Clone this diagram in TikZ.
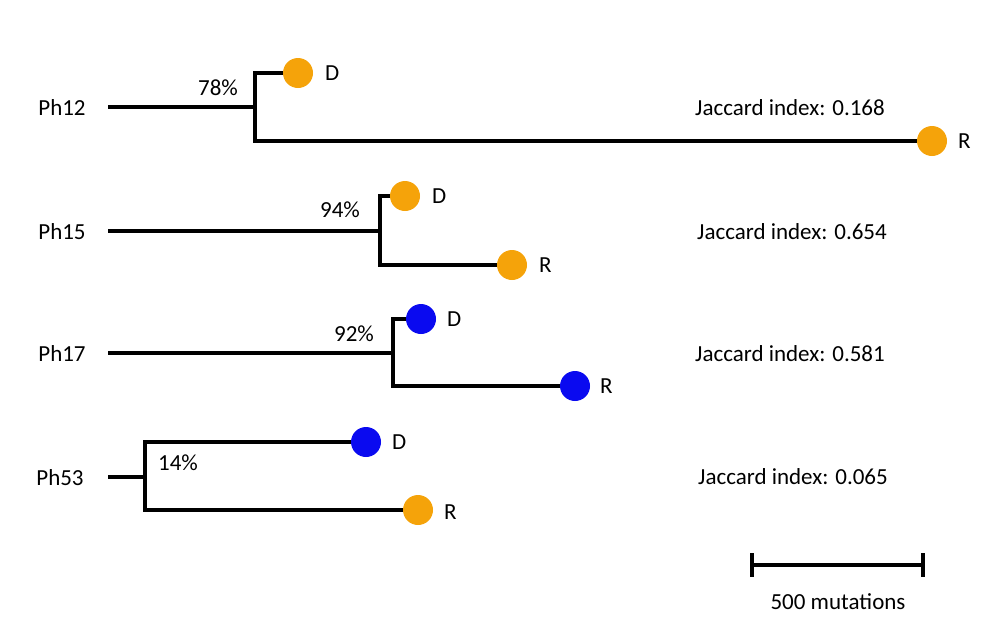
\documentclass[tikz,border=0pt]{standalone}
\usepackage{fontspec}
\setmainfont{Carlito}
\definecolor{orng}{HTML}{F5A30A}
\definecolor{blu}{HTML}{0A0AF0}
\begin{document}
\begin{tikzpicture}[x=1pt,y=-1pt,
 br/.style={line width=4.5pt},
 lf/.style={circle,minimum size=30pt,inner sep=0pt},
 txt/.style={font=\fontsize{23}{27}\selectfont,inner sep=0pt},
]
\useasboundingbox (0,0) rectangle (1002,638);
\def\tree#1#2#3#4#5#6#7#8#9{}
% Ph12
\node[txt] (l12) at (62,108) {Ph12};
\coordinate (s12) at (108,107);
\coordinate (n12) at (255,107);
\node[lf,fill=orng] (d12) at (298,73) {};
\node[lf,fill=orng] (r12) at (932,141) {};
\draw[br] (s12) -- (n12);
\draw[br] (d12.west) -| (n12) |- (r12.west);
\node[txt] at (218,88) {78\%};
\node[txt,anchor=west] at (325,73) {D};
\node[txt,anchor=west] at (958,141) {R};
\node[txt] at (790,108) {Jaccard index: 0.168};
% Ph15
\node[txt] (l15) at (62,232) {Ph15};
\coordinate (s15) at (108,231);
\coordinate (n15) at (380,231);
\node[lf,fill=orng] (d15) at (405,196) {};
\node[lf,fill=orng] (r15) at (512,265) {};
\draw[br] (s15) -- (n15);
\draw[br] (d15.west) -| (n15) |- (r15.west);
\node[txt] at (340,210) {94\%};
\node[txt,anchor=west] at (432,196) {D};
\node[txt,anchor=west] at (539,265) {R};
\node[txt] at (792,232) {Jaccard index: 0.654};
% Ph17
\node[txt] (l17) at (62,354) {Ph17};
\coordinate (s17) at (108,353);
\coordinate (n17) at (393,353);
\node[lf,fill=blu] (d17) at (421,319) {};
\node[lf,fill=blu] (r17) at (575,386) {};
\draw[br] (s17) -- (n17);
\draw[br] (d17.west) -| (n17) |- (r17.west);
\node[txt] at (354,334) {92\%};
\node[txt,anchor=west] at (447,319) {D};
\node[txt,anchor=west] at (600,386) {R};
\node[txt] at (790,354) {Jaccard index: 0.581};
% Ph53
\node[txt] (l53) at (60,478) {Ph53};
\coordinate (s53) at (108,477);
\coordinate (n53) at (145,477);
\node[lf,fill=blu] (d53) at (366,442) {};
\node[lf,fill=orng] (r53) at (418,510) {};
\draw[br] (s53) -- (n53);
\draw[br] (d53.west) -| (n53) |- (r53.west);
\node[txt] at (178,463) {14\%};
\node[txt,anchor=west] at (392,442) {D};
\node[txt,anchor=west] at (444,512) {R};
\node[txt] at (793,477) {Jaccard index: 0.065};
% scale
\coordinate (a) at (752,565);
\coordinate (b) at (923,565);
\draw[br] (a) -- (b);
\draw[br] (752,553) -- (752,577);
\draw[br] (923,553) -- (923,577);
\node[txt] at (838,602) {500 mutations};
\end{tikzpicture}
\end{document}
